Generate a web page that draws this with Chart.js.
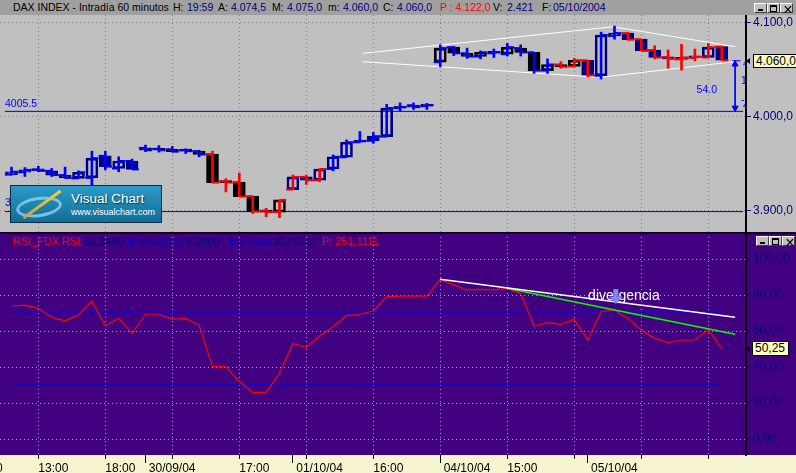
<!DOCTYPE html>
<html lang="es">
<head>
<meta charset="utf-8">
<title>DAX INDEX - Intradía 60 minutos</title>
<script src="https://cdn.jsdelivr.net/npm/chart.js@4.4.1/dist/chart.umd.min.js"></script>
<style>
  body { margin: 0; }
  #frame { position: relative; width: 796px; height: 473px; overflow: hidden; background: #c0c0c0;
           font-family: "Liberation Sans", Arial, sans-serif; }
  .abs { position: absolute; white-space: nowrap; }
  #titleBar { left: 0; top: 0; width: 796px; height: 15px; background: #a0a0a0; font-size: 10.5px; line-height: 15px; }
  .nv { color: #000080; } .rd { color: #ff0000; } .bl { color: #0000cc; } .bk { color: #000; }
  #priceCanvas { left: 0; top: 15px; }
  #rsiBg { left: 0; top: 233px; width: 796px; height: 222px; background: #400080; }
  #axisBg { left: 0; top: 455px; width: 796px; height: 18px; background: #f5f5d2; }
  #rsiCanvas { left: 0; top: 233px; }
  #sep { left: 0; top: 232px; width: 796px; height: 2px; background: #12001e; }
  #rsiHead { top: 234px; font-size: 11px; line-height: 14px; }
  .btn { width: 11px; height: 8px; background: #c0c0c0; border: 1px solid; border-color: #fff #404040 #404040 #fff; }
  .btn i { position: absolute; display: block; }
  .valbox { background: #ffffc0; border: 1px solid #000; font-size: 12px; line-height: 12px; color: #000; padding-left: 2px; }
  .mark { width: 0; height: 0; border-top: 3px solid transparent; border-bottom: 3px solid transparent; border-right: 4px solid #000; }
  #logo { left: 10px; top: 185px; width: 150px; height: 36px; border: 1px solid #0b2a3a; overflow: hidden;
          background: linear-gradient(#2c9ac8, #0f6e98); }
  #logo .ring { left: 5px; top: 11px; width: 40px; height: 14px; border: 3px solid rgba(140,205,240,0.85); border-radius: 50%; transform: rotate(-8deg); }
  #logo .swoosh { left: 8px; top: 17px; width: 46px; height: 3px; background: linear-gradient(90deg, #c8a040, #ffcc33); transform: rotate(-36deg); }
  #logo .t1 { left: 60px; top: 6px; font-size: 13.5px; line-height: 13.5px; color: #fff; text-shadow: 1px 1px 1px #063650; }
  #logo .t2 { left: 60px; top: 22px; font-size: 9px; line-height: 9px; color: #fff; }
</style>
</head>
<body>
<div id="frame">
  <div id="titleBar" class="abs"></div>
  <canvas id="priceCanvas" class="abs" width="796" height="218"></canvas>
  <div id="rsiBg" class="abs"></div>
  <div id="axisBg" class="abs"></div>
  <canvas id="rsiCanvas" class="abs" width="796" height="240"></canvas>
  <div id="sep" class="abs"></div>
  <div id="rsiHead" class="abs"></div>

  <div id="logo" class="abs">
    <div class="abs ring"></div><div class="abs swoosh"></div>
    <div class="abs t1">Visual Chart</div>
    <div class="abs t2">www.visualchart.com</div>
  </div>

  <div class="abs mark" style="left:746px;top:58px"></div>
  <div class="abs valbox" style="left:753px;top:54px;width:44px;height:12px">4.060,0</div>
  <div class="abs mark" style="left:746px;top:346px"></div>
  <div class="abs valbox" style="left:752px;top:341px;width:33px;height:13px;line-height:13px">50,25</div>
  <div class="abs bk" style="left:-4px;top:461px;font-size:12px">0</div>
</div>

<script>
// hourly bars, 29/09/04 11:00 .. 05/10/04 19:00
const barOpen = [3938, 3940.5, 3943.5, 3942, 3937.5, 3934, 3934.5, 3958, 3944.5, 3952.5,
  3966.5, 3965.5, 3965, 3964, 3963, 3960, 3931, 3930, 3915, 3899.5,
  3898, 3922, 3935.5, 3932, 3944, 3956.5, 3972.5, 3974, 3978.5, 4009,
  4012, 4011, 4058, 4074, 4067.5, 4064, 4067.5, 4066.5, 4073, 4068.5,
  4049, 4055.5, 4053.5, 4060, 4043.5, 4086, 4089, 4082.5, 4071, 4063.5,
  4061, 4062.5, 4063, 4074.5];
const barHigh = [3946, 3945.5, 3947, 3944.5, 3946, 3942, 3963, 3963, 3957, 3954.5,
  3969.5, 3969, 3968, 3965.5, 3964, 3963, 3933.5, 3939.5, 3915, 3902,
  3911, 3937.5, 3937.5, 3944.5, 3959, 3975, 3984, 3983, 4013, 4014.5,
  4014.5, 4014, 4076.5, 4075, 4073, 4070, 4072, 4078, 4076.5, 4068.5,
  4061.5, 4058.5, 4062, 4060, 4090, 4096.5, 4090, 4082.5, 4075.5, 4071,
  4077, 4072, 4078, 4075];
const barLow = [3937.5, 3936, 3941, 3936, 3934, 3934, 3926, 3943, 3941, 3943.5,
  3962.5, 3962, 3962, 3960.5, 3957, 3929, 3919.5, 3914.5, 3896.5, 3893,
  3892, 3922, 3927.5, 3930.5, 3942, 3956.5, 3972.5, 3971.5, 3978.5, 4006,
  4007.5, 4007.5, 4053, 4065, 4062, 4061.5, 4063, 4064.5, 4064.5, 4046,
  4046, 4051.5, 4053, 4042.5, 4040, 4082.5, 4081.5, 4070, 4061.5, 4051.5,
  4049.5, 4059.5, 4063, 4060];
const barClose = [3941, 3943, 3942, 3937.5, 3934.5, 3940.5, 3955.5, 3946.5, 3952.5, 3943.5,
  3964, 3964, 3962.5, 3963, 3959.5, 3929.5, 3929.5, 3914.5, 3898.5, 3898,
  3911, 3935.5, 3932, 3944, 3957, 3972.5, 3974, 3979, 4009, 4010,
  4010, 4012, 4073, 4067.5, 4064, 4068.5, 4068.5, 4074, 4068.5, 4049,
  4055.5, 4053, 4060, 4044, 4087, 4089, 4082, 4070, 4063, 4061.5,
  4063, 4063.5, 4074, 4060];
// candle body colour: n = navy, k = black ; bar (wick/ticks) colour: b = blue, r = red
const bodyTone = 'nnnnnnnnnnkkkkkkkkkkknnnnnnnnnnnkkkkkkkkkkknnnnnnnnnnn'.split('');
const barTone = 'bbbbbbbbbbbbbbbrrrrrrrrrbbbbbbbbbbbbbbbbbrrrbbrrrrrrrr'.split('');

const rsiValues = [73.9, 74.4, 72.6, 67.6, 65.6, 68.9, 76.7, 62.8, 67.0, 58.7,
  69.3, 69.3, 66.5, 67.0, 63.3, 40.2, 40.2, 31.9, 25.9, 25.9,
  36.5, 53.1, 50.9, 57.2, 62.4, 68.5, 69.3, 71.1, 79.1, 79.4,
  79.4, 79.4, 88.7, 85.6, 82.8, 83.1, 82.8, 83.7, 80.9, 62.8,
  64.6, 63.7, 66.5, 55.0, 70.7, 71.7, 67.0, 60.6, 55.9, 53.5,
  55.0, 55.0, 60.9, 50.25];

const hourTicks = [2, 7, 12, 17, 22, 27, 32, 37, 42, 47, 52];
const hourLabels = ['13:00', '18:00', '', '17:00', '', '16:00', '', '15:00', '', '', ''];
const dayTicks = [10, 21, 32, 43];
const dayLabels = ['30/09/04', '01/10/04', '04/10/04', '05/10/04'];
const priceTicks = [3900, 4000, 4100];
const rsiTicks = [0, 20, 40, 60, 80, 100];

// drawn objects on the price panel
const supportLevel = 4005.5;
const lowLevel = 3898.5;
const levelSpan = [-0.49, 54.6];
const wedgeUpperX = [26.2, 44.9, 54.0];
const wedgeUpperY = [4067.4, 4095.8, 4074.5];
const wedgeLowerX = [26.2, 43.9, 54.0];
const wedgeLowerY = [4058.5, 4041.8, 4058.5];
const measureX = 54.0;
const measureTop = 4059.5;

// drawn objects on the RSI panel
const bandLevels = [70, 30];
const bandSpan = [0, 53];
const trendWhiteX = [31.98, 54.0];
const trendWhiteY = [88.7, 67.6];
const trendGreenX = [36.96, 54.0];
const trendGreenY = [83.7, 58.2];

const FONT = '"Liberation Sans", Arial, sans-serif';
const navy = '#000080', blue = '#0000ff', red = '#ff0000';
const xMin = -11.5 / 13.4, xMax = xMin + 746 / 13.4;
const pxPerPoint = 0.937;              // price panel: 4.000 sits 101.5px below the top
const priceMax = 4000 + 101.5 / pxPerPoint;
const priceMin = priceMax - 218 / pxPerPoint;

// ---- header texts
const titleParts = [
  ['DAX INDEX - Intradía 60 minutos', 13, 'bk'], ['H:', 173, 'bk'], ['19:59', 187, 'nv'],
  ['A:', 218, 'bk'], ['4.074,5', 231, 'nv'], ['M:', 272, 'bk'], ['4.075,0', 287, 'nv'],
  ['m:', 328, 'bk'], ['4.060,0', 343, 'nv'], ['C:', 383, 'bk'], ['4.060,0', 397, 'nv'],
  ['P : 4.122,0', 440, 'rd'], ['V:', 493, 'bk'], ['2.421', 507, 'nv'],
  ['F:', 542, 'bk'], ['05/10/2004', 553, 'nv']
];
const rsiParts = [
  ['RSI_FDX', 13, 'rd'], ['RSI:', 62, 'rd'], ['50,2490', 84, 'nv'], ['BandaSup:', 129, 'bl'],
  ['70,0000', 180, 'nv'], ['BandaInf:', 229, 'bl'], ['30,0000', 273, 'nv'], ['P: 251,1111', 322, 'rd']
];
function placeParts(parent, parts) {
  parts.forEach(function (p) {
    const s = document.createElement('span');
    s.className = 'abs ' + p[2];
    s.style.left = p[1] + 'px';
    s.textContent = p[0];
    parent.appendChild(s);
  });
}
placeParts(document.getElementById('titleBar'), titleParts);
placeParts(document.getElementById('rsiHead'), rsiParts);

// window buttons (minimise / maximise / close)
function addButtons(left, top) {
  const frame = document.getElementById('frame');
  [0, 1, 2].forEach(function (k) {
    const b = document.createElement('div');
    b.className = 'abs btn';
    b.style.left = (left + k * 13) + 'px';
    b.style.top = top + 'px';
    if (k === 0) b.innerHTML = '<i style="left:3px;top:5px;width:5px;height:2px;background:#000"></i>';
    if (k === 1) b.innerHTML = '<i style="left:2px;top:1px;width:5px;height:4px;border:1px solid #000;border-top-width:2px"></i>';
    if (k === 2) b.innerHTML = '<i style="left:2px;top:-3px;font:bold 11px ' + FONT + ';font-style:normal">×</i>';
    frame.appendChild(b);
  });
}
addButtons(754, 3);
addButtons(756, 236);

// ---- helpers
function fmtPrice(v) {
  return v.toFixed(1).replace('.', ',').replace(/^(\d)(\d{3})/, '$1.$2');
}
function fmtRsi(v) {
  return v.toFixed(2).replace('.', ',');
}
function xy(xs, ys) {
  return xs.map(function (x, i) { return {x: x, y: ys[i]}; });
}

const idx = barOpen.map(function (_, i) { return i; });
const isUp = idx.map(function (i) { return barClose[i] >= barOpen[i]; });
const toneColor = idx.map(function (i) { return bodyTone[i] === 'k' ? '#000000' : navy; });
const barColor = idx.map(function (i) { return barTone[i] === 'r' ? red : blue; });

// time axis: hour grid positions plus day boundaries, labelled together
const axisTicks = hourTicks.concat(dayTicks)
  .filter(function (v, i, a) { return a.indexOf(v) === i; })
  .sort(function (a, b) { return a - b; });
function axisLabel(v) {
  const d = dayTicks.indexOf(v);
  if (d >= 0) return ' ' + dayLabels[d];
  return hourLabels[hourTicks.indexOf(v)];
}

const baseOptions = {
  responsive: false,
  animation: false,
  devicePixelRatio: 1,
  events: [],
  layout: { padding: 0, autoPadding: false },
  plugins: { legend: { display: false }, tooltip: { enabled: false } }
};

// ---- price panel
const priceNotes = {
  id: 'priceNotes',
  afterDatasetsDraw(chart) {
    const {ctx, chartArea, scales: {x, y}} = chart;
    ctx.save();
    ctx.beginPath();
    ctx.rect(chartArea.left, chartArea.top, chartArea.right - chartArea.left, chartArea.bottom - chartArea.top);
    ctx.clip();
    ctx.fillStyle = blue;
    ctx.font = '10.5px ' + FONT;
    ctx.textBaseline = 'middle';
    ctx.textAlign = 'left';
    ctx.fillText(supportLevel.toFixed(1), chartArea.left + 5, y.getPixelForValue(supportLevel) - 7);
    ctx.fillText(lowLevel.toFixed(1), chartArea.left + 5, y.getPixelForValue(lowLevel) - 8);
    ctx.textAlign = 'right';
    ctx.fillText((measureTop - supportLevel).toFixed(1), x.getPixelForValue(52.65), y.getPixelForValue(4028));
    // side labels of the measuring tool, cut by the price axis
    ctx.textAlign = 'left';
    const sx = x.getPixelForValue(measureX) + 6;
    ctx.fillText('4', sx + 2, y.getPixelForValue(measureTop) + 3);
    ctx.fillText('1', sx, y.getPixelForValue(4038));
    ctx.fillText('-', sx, y.getPixelForValue(4018));
    ctx.fillText('4', sx + 2, y.getPixelForValue(supportLevel) - 5);
    ctx.restore();
  }
};

new Chart(document.getElementById('priceCanvas'), {
  type: 'line',
  data: {
    datasets: [
      { type: 'line', order: 1, data: [{x: measureX, y: measureTop}, {x: measureX, y: supportLevel}],
        borderColor: blue, borderWidth: 1, pointRadius: 0 },
      { type: 'line', order: 1, data: [{x: measureX - 0.2, y: measureTop}, {x: measureX + 0.4, y: measureTop}],
        borderColor: blue, borderWidth: 1, pointRadius: 0 },
      { type: 'line', order: 1, showLine: false,
        data: [{x: measureX, y: measureTop - 3.7}, {x: measureX, y: supportLevel + 3.7}],
        pointStyle: 'triangle', pointRotation: [0, 180], pointRadius: 3.5,
        pointBackgroundColor: blue, pointBorderColor: blue, pointBorderWidth: 1 },
      { type: 'line', order: 2, showLine: false,
        data: idx.map(function (i) { return {x: i - 0.25, y: barOpen[i]}; }),
        pointStyle: 'line', pointRadius: 3.35, pointBorderWidth: 2, pointBorderColor: barColor },
      { type: 'line', order: 2, showLine: false,
        data: idx.map(function (i) { return {x: i + 0.25, y: barClose[i]}; }),
        pointStyle: 'line', pointRadius: 3.35, pointBorderWidth: 2, pointBorderColor: barColor },
      { type: 'bar', order: 3, stack: 'candle',
        data: idx.map(function (i) { return {x: i, y: [barLow[i], barHigh[i]]}; }),
        backgroundColor: barColor, borderWidth: 0, barThickness: 2, minBarLength: 1 },
      { type: 'bar', order: 4, stack: 'candle',
        data: idx.map(function (i) { return {x: i, y: [barOpen[i], barClose[i]]}; }),
        backgroundColor: idx.map(function (i) { return isUp[i] ? 'rgba(0,0,0,0)' : toneColor[i]; }),
        borderColor: toneColor, borderWidth: 2, borderSkipped: false, barThickness: 12, minBarLength: 2 },
      { type: 'line', order: 5, data: [{x: levelSpan[0], y: supportLevel}, {x: levelSpan[1], y: supportLevel}],
        borderColor: '#0000cc', borderWidth: 1, pointRadius: 0 },
      { type: 'line', order: 5, data: [{x: levelSpan[0], y: lowLevel}, {x: levelSpan[1], y: lowLevel}],
        borderColor: '#0000cc', borderWidth: 1, pointRadius: 0 },
      { type: 'line', order: 6, data: xy(wedgeUpperX, wedgeUpperY), borderColor: '#ffffff', borderWidth: 1, pointRadius: 0 },
      { type: 'line', order: 6, data: xy(wedgeLowerX, wedgeLowerY), borderColor: '#ffffff', borderWidth: 1, pointRadius: 0 }
    ]
  },
  options: Object.assign({}, baseOptions, {
    scales: {
      x: {
        type: 'linear', min: xMin, max: xMax, offset: false,
        grid: { offset: false, color: '#808080', lineWidth: 1, drawTicks: false },
        border: { display: false, dash: [1, 3] },
        ticks: { display: false },
        afterBuildTicks: function (s) { s.ticks = hourTicks.map(function (v) { return {value: v}; }); },
        afterFit: function (s) { s.height = 0; s.paddingLeft = 0; s.paddingRight = 0; }
      },
      y: {
        type: 'linear', position: 'right', min: priceMin, max: priceMax, stacked: false,
        grid: { color: '#808080', tickColor: navy, tickLength: 5, lineWidth: 1 },
        border: { display: true, color: '#000', width: 2, dash: [1, 3] },
        ticks: { color: navy, font: { size: 12, family: FONT }, padding: 2,
                 callback: function (v) { return fmtPrice(v); } },
        afterBuildTicks: function (s) { s.ticks = priceTicks.map(function (v) { return {value: v}; }); },
        afterFit: function (s) { s.width = 50; s.paddingTop = 0; s.paddingBottom = 0; }
      }
    }
  }),
  plugins: [priceNotes]
});

// ---- RSI panel
const rsiNotes = {
  id: 'rsiNotes',
  afterDatasetsDraw(chart) {
    const {ctx, scales: {x, y}} = chart;
    ctx.save();
    ctx.fillStyle = '#ffffff';
    ctx.font = '14px ' + FONT;
    ctx.textBaseline = 'middle';
    ctx.textAlign = 'left';
    ctx.fillText('divergencia', x.getPixelForValue(43.03), y.getPixelForValue(79.4));
    // arrow pointing at the divergence
    const ax = x.getPixelForValue(45.1);
    const yTop = y.getPixelForValue(83.3), yNeck = y.getPixelForValue(79.1), yTip = y.getPixelForValue(75);
    ctx.fillStyle = '#7b8ae6';
    ctx.fillRect(ax - 2.5, yTop, 5, yNeck - yTop);
    ctx.beginPath();
    ctx.moveTo(ax - 7, yNeck);
    ctx.lineTo(ax + 7, yNeck);
    ctx.lineTo(ax, yTip);
    ctx.closePath();
    ctx.fill();
    ctx.restore();
  }
};

new Chart(document.getElementById('rsiCanvas'), {
  type: 'line',
  data: {
    datasets: [
      { order: 1, data: xy(trendWhiteX, trendWhiteY), borderColor: '#ffffff', borderWidth: 1.5, pointRadius: 0 },
      { order: 1, data: xy(trendGreenX, trendGreenY), borderColor: '#00ff00', borderWidth: 1.5, pointRadius: 0 },
      { order: 2, data: idx.map(function (i) { return {x: i, y: rsiValues[i]}; }),
        borderColor: red, borderWidth: 1.2, pointRadius: 0 },
      { order: 3, data: [{x: bandSpan[0], y: bandLevels[0]}, {x: bandSpan[1], y: bandLevels[0]}],
        borderColor: blue, borderWidth: 1, pointRadius: 0 },
      { order: 3, data: [{x: bandSpan[0], y: bandLevels[1]}, {x: bandSpan[1], y: bandLevels[1]}],
        borderColor: blue, borderWidth: 1, pointRadius: 0 }
    ]
  },
  options: Object.assign({}, baseOptions, {
    scales: {
      x: {
        type: 'linear', position: 'bottom', weight: 1, min: xMin, max: xMax, offset: false,
        grid: { offset: false, tickColor: '#000', tickLength: 4, lineWidth: 1,
                color: function (c) { return c.tick && hourTicks.indexOf(c.tick.value) >= 0 ? '#a8a880' : 'rgba(0,0,0,0)'; } },
        border: { display: false, dash: [1, 3] },
        ticks: { color: '#000', font: { size: 12, family: FONT }, padding: 2, align: 'start',
                 autoSkip: false, maxRotation: 0, minRotation: 0,
                 callback: function (v) { return axisLabel(v); } },
        afterBuildTicks: function (s) { s.ticks = axisTicks.map(function (v) { return {value: v}; }); },
        afterFit: function (s) { s.height = 18; s.paddingLeft = 0; s.paddingRight = 0; }
      },
      xDay: {
        axis: 'x', type: 'linear', position: 'bottom', weight: 0, min: xMin, max: xMax, offset: false,
        grid: { offset: false, drawOnChartArea: false, tickColor: '#000', tickLength: 8 },
        border: { display: false },
        ticks: { display: false },
        afterBuildTicks: function (s) { s.ticks = dayTicks.map(function (v) { return {value: v}; }); },
        afterFit: function (s) { s.height = 0; s.paddingLeft = 0; s.paddingRight = 0; }
      },
      y: {
        type: 'linear', position: 'right', min: -16 / 1.8, max: 100 + 26 / 1.8,
        grid: { color: '#a8a880', tickColor: navy, tickLength: 5, lineWidth: 1 },
        border: { display: true, color: '#000', width: 2, dash: [1, 3] },
        ticks: { color: navy, font: { size: 12, family: FONT }, padding: 2,
                 callback: function (v) { return fmtRsi(v); } },
        afterBuildTicks: function (s) { s.ticks = rsiTicks.map(function (v) { return {value: v}; }); },
        afterFit: function (s) { s.width = 50; s.paddingTop = 0; s.paddingBottom = 0; }
      }
    }
  }),
  plugins: [rsiNotes]
});
</script>
</body>
</html>
